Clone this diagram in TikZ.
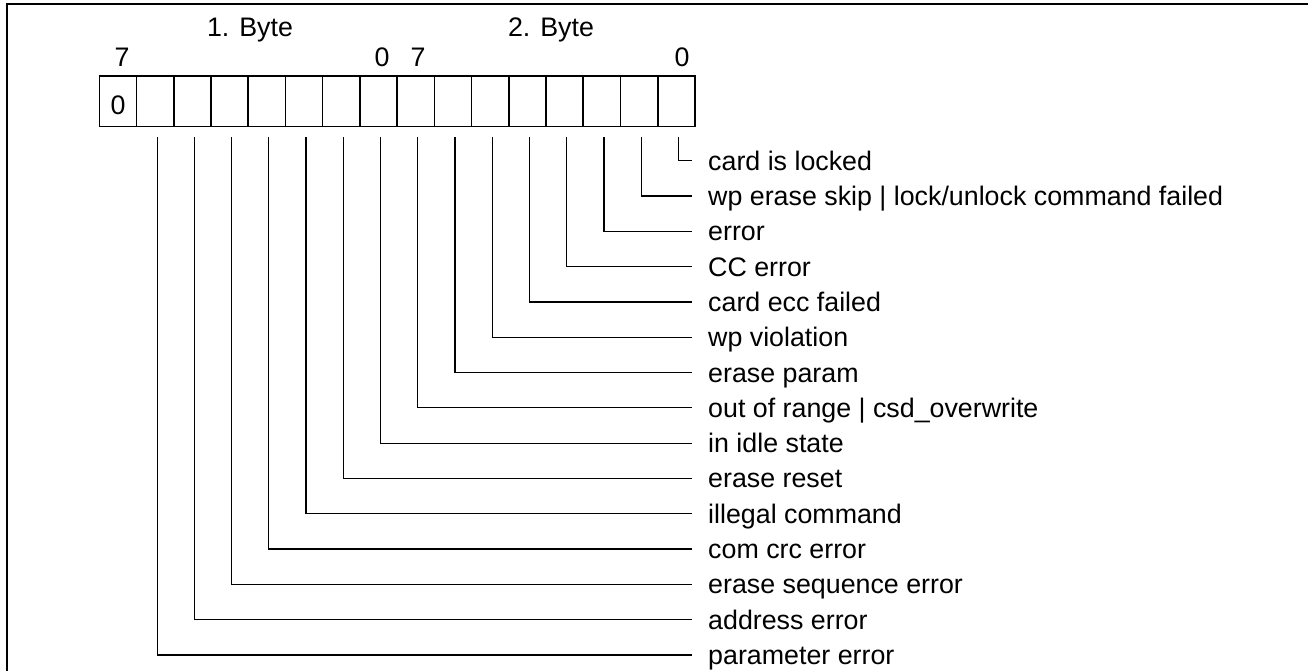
\documentclass[tikz,border=0pt]{standalone}
\usepackage{fontspec}
\setmainfont{Liberation Sans}
\begin{document}
\begin{tikzpicture}[x=1pt,y=-1pt,
  every node/.style={font=\fontsize{26.8}{32}\selectfont},
  cell/.style={draw,line width=1.6pt,minimum width=37.23pt,minimum height=50.7pt,inner sep=0pt,anchor=center},
  lbl/.style={anchor=west,inner xsep=16pt,inner ysep=0pt,text height=19pt,text depth=0pt},
  conn/.style={line width=1.2pt},
  frame/.style={line width=1.6pt}]
\useasboundingbox (0,0) rectangle (1308,671);
\draw[frame] (7,671) -- (7,4) -- (1308,4);
\foreach \k in {1,...,16}
  \node[cell] (c\k) at ({99.3+37.23*(\k-0.5)},101.35) {};
\node[anchor=base,inner sep=0pt] (z) at (118,115) {0};
\node[anchor=base,inner sep=0pt] (b1) at (250,36.7) {1. Byte};
\node[anchor=base,inner sep=0pt] (b2) at (551,36.7) {2. Byte};
\node[anchor=base,inner sep=0pt] (h1) at (122,67) {7};
\node[anchor=base,inner sep=0pt] (h2) at (382,67) {0};
\node[anchor=base,inner sep=0pt] (h3) at (418,67) {7};
\node[anchor=base,inner sep=0pt] (h4) at (682,67) {0};
\foreach \t [count=\i from 0] in {card is locked,wp erase skip | lock/unlock command failed,error,CC error,card ecc failed,wp violation,erase param,out of range | csd\_overwrite,in idle state,erase reset,illegal command,com crc error,erase sequence error,address error,parameter error}{
  \pgfmathtruncatemacro\c{16-\i}
  \node[lbl] (l\c) at (692,{160.7+35.3*\i}) {\t};
  \draw[conn] ([xshift=2pt,yshift=-10pt]c\c.south) |- (l\c.west);
}
\end{tikzpicture}
\end{document}
